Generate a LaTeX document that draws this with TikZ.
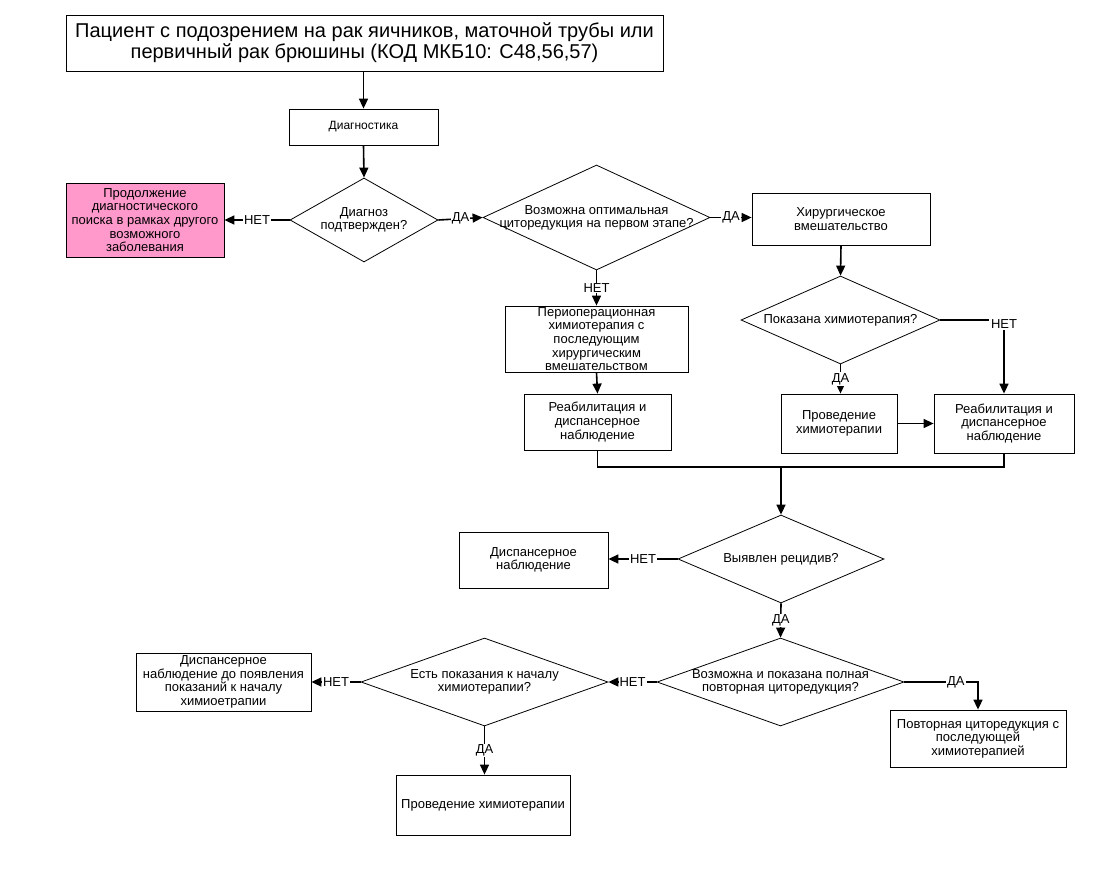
\documentclass[tikz,border=0pt]{standalone}
\usepackage{fontspec}
\setmainfont{Liberation Sans}
\usetikzlibrary{shapes.geometric,arrows.meta}
\definecolor{pinkfill}{HTML}{FF99CC}
\newcommand{\fs}{\fontsize{13}{13.6}\selectfont}
\newcommand{\fsmall}{\fontsize{12}{14}\selectfont}
\begin{document}
\begin{tikzpicture}[x=1pt,y=-1pt,
  box/.style={draw, line width=0.8pt, inner sep=1pt, align=center, font=\fs},
  dia/.style={draw, diamond, line width=0.8pt, inner sep=0pt},
  dtext/.style={align=center, font=\fs, inner sep=0pt},
  conn/.style={line width=1.6pt, -{Triangle[length=10pt,width=9pt]}},
  plain/.style={line width=1.6pt},
  lbl/.style={fill=white, inner sep=1pt, font=\fs}]
\useasboundingbox (0,0) rectangle (1112,884);

% boxes
\node[box, minimum width=597pt, minimum height=56pt, font=\fontsize{20}{21}\selectfont] (top) at (364.5,43)
  {Пациент с подозрением на рак яичников, маточной трубы или\\первичный рак брюшины (КОД МКБ10: С48,56,57)};
\node[box, minimum width=149pt, minimum height=36pt, font=\fsmall] (diag) at (363.5,127) {Диагностика};
\node[box, fill=pinkfill, minimum width=158pt, minimum height=74pt] (pink) at (145,220)
  {Продолжение\\диагностического\\поиска в рамках другого\\возможного\\заболевания};
\node[box, minimum width=178pt, minimum height=52pt] (surg) at (841,219) {Хирургическое\\вмешательство};
\node[box, minimum width=183pt, minimum height=66pt] (peri) at (596.5,339)
  {Периоперационная\\химиотерапия с\\последующим\\хирургическим\\вмешательством};
\node[box, minimum width=147pt, minimum height=56pt] (reab1) at (597.5,422) {Реабилитация и\\диспансерное\\наблюдение};
\node[box, minimum width=116pt, minimum height=59pt] (chemo1) at (839,423.5) {Проведение\\химиотерапии};
\node[box, minimum width=140pt, minimum height=59pt] (reab2) at (1004,423.5) {Реабилитация и\\диспансерное\\наблюдение};
\node[box, minimum width=149pt, minimum height=56pt] (disp1) at (533.5,560) {Диспансерное\\наблюдение};
\node[box, minimum width=176pt, minimum height=57pt] (repeat) at (978,738.5)
  {Повторная циторедукция с\\последующей\\химиотерапией};
\node[box, minimum width=175pt, minimum height=58pt] (disp2) at (223.5,682)
  {Диспансерное\\наблюдение до появления\\показаний к началу\\химиоетрапии};
\node[box, minimum width=174pt, minimum height=60pt] (chemo2) at (483,805) {Проведение химиотерапии};

% diamonds
\node[dia, minimum width=148pt, minimum height=84pt] (d1) at (364,220) {};
\node[dtext] (d1t) at (d1) {Диагноз\\подтвержден?};
\node[dia, minimum width=227pt, minimum height=105pt] (d2) at (596.5,217.5) {};
\node[dtext] (d2t) at (596.5,218) {Возможна оптимальная\\циторедукция на первом этапе?};
\node[dia, minimum width=199pt, minimum height=88pt] (d3) at (840.5,320) {};
\node[dtext] (d3t) at (d3) {Показана химиотерапия?};
\node[dia, minimum width=206pt, minimum height=88pt] (d4) at (781,559) {};
\node[dtext] (d4t) at (d4) {Выявлен рецидив?};
\node[dia, minimum width=247pt, minimum height=88pt] (d5) at (780.5,682) {};
\node[dtext] (d5t) at (d5) {Возможна и показана полная\\повторная циторедукция?};
\node[dia, minimum width=247pt, minimum height=88pt] (d6) at (484.5,682) {};
\node[dtext] (d6t) at (d6) {Есть показания к началу\\химиотерапии?};

% connectors
\draw[conn] (top.south -| diag.north) -- (diag.north);
\draw[conn] (diag.south) -- (d1.north);
\draw[conn] (d1.west) -- node[lbl]{НЕТ} (pink.east);
\draw[conn] (d1.east) -- node[lbl]{ДА} (d2.west);
\draw[conn] (d2.east) -- node[lbl]{ДА} (surg.west |- d2.east);
\draw[conn] (d2.south) -- node[lbl]{НЕТ} (peri.north -| d2.south);
\draw[conn] (peri.south) -- (reab1.north);
\draw[conn] (surg.south) -- (d3.north);
\draw[conn] (d3.east) -| node[lbl, pos=0.5, yshift=-4pt, inner sep=2pt]{НЕТ} (reab2.north);
\draw[conn] (d3.south) -- node[lbl]{ДА} (chemo1.north -| d3.south);
\draw[conn] (chemo1.east) -- (reab2.west |- chemo1.east);
\coordinate (merge) at (781,467);
\draw[plain] (reab1.south) |- (merge) -| (reab2.south);
\draw[conn] (merge) -- (d4.north);
\draw[conn] (d4.west) -- node[lbl]{НЕТ} (disp1.east |- d4.west);
\draw[conn] (d4.south) -- node[lbl]{ДА} (d5.north);
\draw[conn] (d5.west) -- node[lbl]{НЕТ} (d6.east);
\draw[conn] (d5.east) -| node[lbl, pos=0.35]{ДА} (repeat.north);
\draw[conn] (d6.west) -- node[lbl]{НЕТ} (disp2.east);
\draw[conn] (d6.south) -- node[lbl]{ДА} (chemo2.north -| d6.south);
\end{tikzpicture}
\end{document}
